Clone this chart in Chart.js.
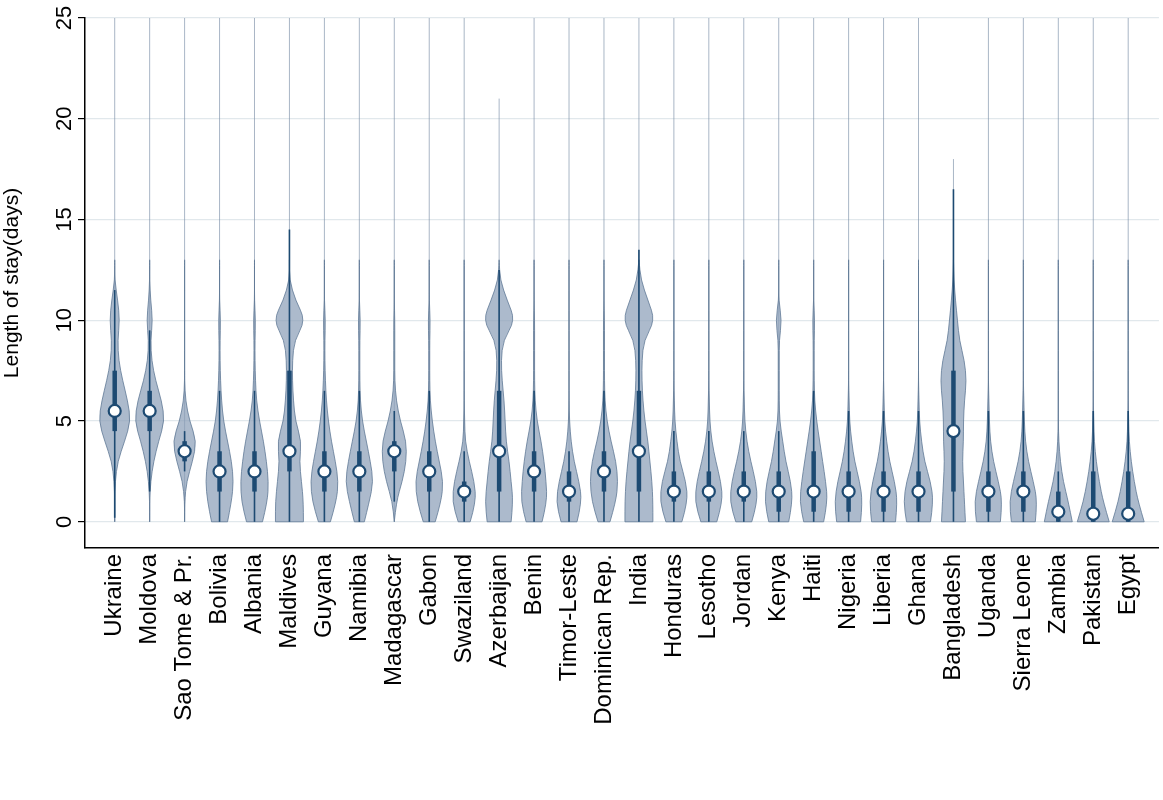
<!DOCTYPE html>
<html><head><meta charset="utf-8">
<script src="https://cdn.jsdelivr.net/npm/chart.js@4.4.1/dist/chart.umd.min.js"></script>
<style>html,body{margin:0;background:#fff}#w{width:1163px;height:800px}</style>
</head><body><div id="w"><canvas id="c"></canvas></div>
<script>
const countries=["Ukraine","Moldova","Sao Tome & Pr.","Bolivia","Albania","Maldives","Guyana","Namibia","Madagascar","Gabon","Swaziland","Azerbaijan","Benin","Timor-Leste","Dominican Rep.","India","Honduras","Lesotho","Jordan","Kenya","Haiti","Nigeria","Liberia","Ghana","Bangladesh","Uganda","Sierra Leone","Zambia","Pakistan","Egypt"];
const medians=[5.5,5.5,3.5,2.5,2.5,3.5,2.5,2.5,3.5,2.5,1.5,3.5,2.5,1.5,2.5,3.5,1.5,1.5,1.5,1.5,1.5,1.5,1.5,1.5,4.5,1.5,1.5,0.5,0.4,0.4];
const q1=[4.5,4.5,3,1.5,1.5,2.5,1.5,1.5,2.5,1.5,1,1.5,1.5,1,1.5,1.5,1,1,1,0.5,0.5,0.5,0.5,0.5,1.5,0.5,0.5,0,0,0];
const q3=[7.5,6.5,4,3.5,3.5,7.5,3.5,3.5,4,3.5,2,6.5,3.5,2.5,3.5,6.5,2.5,2.5,2.5,2.5,3.5,2.5,2.5,2.5,7.5,2.5,2.5,1.5,2.5,2.5];
const whiskLo=[0.2,1.5,2.5,0,0,0,0,0,1,0,0,0,0,0,0,0,0,0,0,0,0,0,0,0,0,0,0,0,0,0];
const whiskHi=[11.5,9.5,4.5,6.5,6.5,14.5,6.5,6.5,5.5,6.5,3.5,12.5,6.5,3.5,6.5,13.5,4.5,4.5,4.5,4.5,6.5,5.5,5.5,5.5,16.5,5.5,5.5,2.5,5.5,5.5];
const tailTop=[25,25,25,25,25,25,25,25,25,25,25,21,25,25,25,25,25,25,25,25,25,25,25,25,18,25,25,25,25,25];
// density half-widths at y = 0,1,...,12
const densityLevels=[0,1,2,3,4,5,6,7,8,9,10,11,12];
const density=[
[0,0,0.5,3,10,16,13,8,4,3,5,3,0],
[0,0,1,4,9,15,12,6,2,1,3,1,0],
[0,0,2,8,12,5,1,0,0,0,0,0,0],
[8,12,14,12,8,4,2,1,0.5,0.5,1,0,0],
[8,13,14,12,9,5,2,1,0.5,0.5,1,0,0],
[14,14,12,10,12,6,4,3,3,5,16,6,0],
[6,12,14,11,7,4,2,1,0.5,0.5,1,0,0],
[5,10,14,11,7,3,1,0.5,0.5,0.5,1,0,0],
[0,2,8,12,12,6,2,0.5,0.5,0.5,0.5,0,0],
[6,12,14,10,6,3,1,0.5,0.5,0.5,1,0,0],
[6,12,10,5,1,0.5,0,0,0,0,0,0,0],
[12,14,12,10,7,6,5,3,2,4,16,8,1],
[8,13,12,10,7,3,1,0.5,0.5,0.5,0.5,0,0],
[8,13,10,5,2,0.5,0,0,0,0,0,0,0],
[6,12,14,12,7,3,1,0.5,0.5,0.5,0.5,0,0],
[14,14,13,11,9,6,4,3,3,5,16,9,2],
[8,14,12,6,3,1,0.5,0,0,0,0,0,0],
[8,14,12,7,3,1,0.5,0,0,0,0,0,0],
[8,14,12,7,3,1,0.5,0,0,0,0,0,0],
[10,14,12,7,4,1,0.5,0.5,0.5,0.5,3,0,0],
[10,14,12,9,6,3,1,0.5,0.5,0.5,1,0,0],
[12,14,11,6,3,1,0.5,0,0,0,0,0,0],
[12,14,11,6,3,1,0.5,0,0,0,0,0,0],
[12,15,12,6,3,1,0.5,0,0,0,0,0,0],
[12,11,10,9,10,10,11,13,11,6,4,2,0.5],
[12,14,10,5,2,1,0.5,0,0,0,0,0,0],
[12,14,10,5,2,1,0.5,0,0,0,0,0,0],
[14,10,5,2,0.5,0,0,0,0,0,0,0,0],
[16,10,6,3,1,0.5,0,0,0,0,0,0,0],
[16,10,6,3,1,0.5,0,0,0,0,0,0,0]];
const yTicks=[0,5,10,15,20,25];
const FONT='Liberation Sans, Arial, sans-serif';

const violinPlugin={id:'violin',
 beforeDatasetsDraw(chart){
  const ctx=chart.ctx,xs=chart.scales.x,ys=chart.scales.y,unit=xs.getPixelForValue(1)-xs.getPixelForValue(0);
  ctx.save();
  countries.forEach((c,i)=>{
    const cx=xs.getPixelForValue(i);
    ctx.strokeStyle='rgba(120,140,165,0.8)';ctx.lineWidth=0.8;
    ctx.beginPath();ctx.moveTo(cx,ys.getPixelForValue(0));ctx.lineTo(cx,ys.getPixelForValue(tailTop[i]));ctx.stroke();
    const d=density[i];const pts=[];
    for(let k=0;k<d.length;k++)pts.push([ys.getPixelForValue(densityLevels[k]),d[k]/35*unit]);
    pts.push([ys.getPixelForValue(13),0]);
    const side=s=>{const arr=s>0?pts:pts.slice().reverse();return arr.map(p=>[cx+s*p[1],p[0]]);};
    const path=[...side(1),...side(-1)];
    ctx.beginPath();
    ctx.moveTo(path[0][0],path[0][1]);
    for(let k=1;k<path.length-1;k++){const mx=(path[k][0]+path[k+1][0])/2,my=(path[k][1]+path[k+1][1])/2;ctx.quadraticCurveTo(path[k][0],path[k][1],mx,my);}
    ctx.lineTo(path[path.length-1][0],path[path.length-1][1]);ctx.closePath();
    ctx.fillStyle='rgba(140,160,185,0.72)';ctx.fill();
    ctx.strokeStyle='#5f7896';ctx.lineWidth=0.8;ctx.stroke();
    ctx.strokeStyle='#1d4a72';ctx.lineWidth=1.6;
    ctx.beginPath();ctx.moveTo(cx,ys.getPixelForValue(whiskLo[i]));ctx.lineTo(cx,ys.getPixelForValue(whiskHi[i]));ctx.stroke();
    ctx.lineWidth=4.5;ctx.beginPath();ctx.moveTo(cx,ys.getPixelForValue(q1[i]));ctx.lineTo(cx,ys.getPixelForValue(q3[i]));ctx.stroke();
    ctx.beginPath();ctx.arc(cx,ys.getPixelForValue(medians[i]),6,0,Math.PI*2);
    ctx.fillStyle='#fff';ctx.fill();ctx.lineWidth=2.2;ctx.strokeStyle='#1d4a72';ctx.stroke();
  });
  ctx.restore();
 },
 afterDraw(chart){
  const ctx=chart.ctx,ys=chart.scales.y;
  ctx.save();ctx.fillStyle='#000';ctx.font='22px '+FONT;ctx.textAlign='center';ctx.textBaseline='middle';
  yTicks.forEach(v=>{const py=ys.getPixelForValue(v);ctx.save();ctx.translate(ys.right-20,py);ctx.rotate(-Math.PI/2);ctx.fillText(String(v),0,0);ctx.restore();});
  ctx.restore();
 }};

new Chart(document.getElementById('c'),{
  type:'scatter',
  data:{datasets:[{data:medians.map((m,i)=>({x:i,y:m})),pointRadius:0}]},
  options:{responsive:true,maintainAspectRatio:false,animation:false,
    layout:{padding:{top:18,right:0,left:0,bottom:0}},
    plugins:{legend:{display:false},tooltip:{enabled:false}},
    scales:{
      x:{type:'linear',min:-0.85,max:29.88,afterBuildTicks:a=>{a.ticks=countries.map((c,i)=>({value:i}));},
        grid:{display:false,drawTicks:true,tickLength:0},border:{color:'#000',width:1.5},
        ticks:{autoSkip:false,minRotation:90,maxRotation:90,padding:6,color:'#000',font:{family:FONT,size:24},callback:(v,i)=>countries[i]},
        afterFit:s=>{s.height=252;}},
      y:{min:-1.3,max:25,afterBuildTicks:a=>{a.ticks=yTicks.map(v=>({value:v}));},
        grid:{color:'#e1e8ec',lineWidth:1.2,drawTicks:true,tickColor:'#000',tickLength:7},border:{color:'#000',width:1.5},
        title:{display:true,text:'Length of stay(days)',color:'#000',font:{family:FONT,size:21},padding:0},
        ticks:{display:false},
        afterFit:s=>{s.width=85;}}
    }},
  plugins:[violinPlugin]
});
</script></body></html>
